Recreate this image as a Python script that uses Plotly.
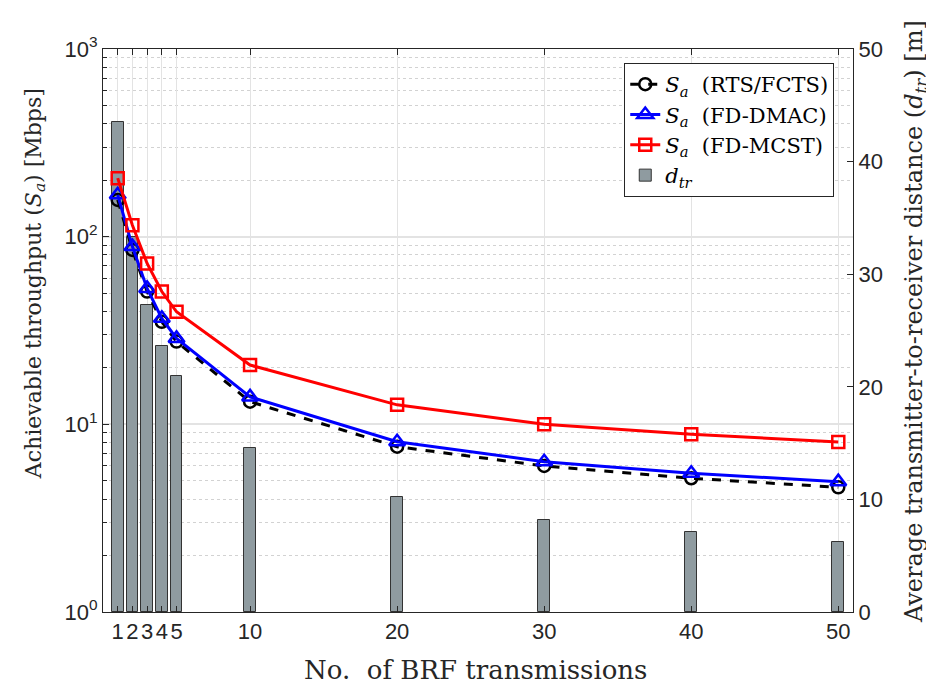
import plotly.graph_objects as go

# ---- data ----
brf = [1, 2, 3, 4, 5, 10, 20, 30, 40, 50]
x_ticklabels = ["1", "2", "3", "4", "5", "10", "20", "30", "40", "50"]
d_tr = [43.5, 33.3, 27.3, 23.6, 21.0, 14.6, 10.2, 8.2, 7.1, 6.2]
s_rts_fcts = [157, 85, 51, 35.2, 27.6, 13.2, 7.6, 6.0, 5.16, 4.62]
s_fd_dmac = [167, 88.5, 53, 36.7, 28.7, 14.0, 8.08, 6.32, 5.48, 4.95]
s_fd_mcst = [205, 115, 72, 51, 39.8, 20.7, 12.7, 10.0, 8.85, 8.05]
y_tickvals = [1, 10, 100, 1000]
y_ticklabels = ["10<sup>0</sup>", "10<sup>1</sup>", "10<sup>2</sup>", "10<sup>3</sup>"]
y_minor_tickvals = [m * d for d in (1, 10, 100) for m in range(2, 10)]
y2_tickvals = [0, 10, 20, 30, 40, 50]

SERIF = "DejaVu Serif, Liberation Serif, serif"
SANS = "Liberation Sans, Arial, sans-serif"
AX = "#262626"

fig = go.Figure()

# bars on the primary (linear, right-side) axis so lines draw above them
fig.add_trace(go.Bar(
    x=brf, y=d_tr, width=0.8,
    marker=dict(color="#8f9ba0", line=dict(color="#333333", width=1)),
    name="<i>d</i><sub><i>tr</i></sub>", legendrank=4,
    xaxis="x", yaxis="y",
))

common = dict(xaxis="x", yaxis="y2", mode="lines+markers")
fig.add_trace(go.Scatter(
    x=brf, y=s_rts_fcts, name="<i>S</i><sub><i>a</i></sub>  (RTS/FCTS)", legendrank=1,
    line=dict(color="black", width=3, dash="dash"),
    marker=dict(symbol="circle-open", size=12, line=dict(width=2.5, color="black")),
    **common))
fig.add_trace(go.Scatter(
    x=brf, y=s_fd_dmac, name="<i>S</i><sub><i>a</i></sub>  (FD-DMAC)", legendrank=2,
    line=dict(color="#0000ff", width=3),
    marker=dict(symbol="triangle-up-open", size=14, line=dict(width=2.5, color="#0000ff")),
    **common))
fig.add_trace(go.Scatter(
    x=brf, y=s_fd_mcst, name="<i>S</i><sub><i>a</i></sub>  (FD-MCST)", legendrank=3,
    line=dict(color="#ff0000", width=3),
    marker=dict(symbol="square-open", size=12, line=dict(width=2.5, color="#ff0000")),
    **common))

title_font = dict(family=SERIF, color=AX)

fig.update_layout(
    width=926, height=682,
    margin=dict(l=95, r=81, t=41, b=78, autoexpand=False),
    paper_bgcolor="white", plot_bgcolor="white",
    showlegend=True,
    bargap=0,
    legend=dict(
        x=0.975, y=0.975, xanchor="right", yanchor="top",
        bgcolor="white", bordercolor="#262626", borderwidth=1,
        font=dict(family=SERIF, size=21, color="black"),
        traceorder="normal",
        tracegroupgap=0,
    ),
    xaxis=dict(
        range=[0, 51], tickmode="array", tickvals=brf, ticktext=x_ticklabels,
        ticks="inside", ticklen=6, tickcolor=AX, mirror="ticks",
        showline=True, linecolor=AX, linewidth=1,
        showgrid=True, gridcolor="#e3e3e3", gridwidth=1,
        zeroline=False, automargin=False,
        tickfont=dict(family=SANS, size=22, color=AX),
    ),
    yaxis=dict(
        side="right", range=[0, 50], tickmode="array", tickvals=y2_tickvals,
        ticks="inside", ticklen=6, tickcolor=AX,
        showline=True, linecolor=AX, linewidth=1,
        showgrid=False, zeroline=False, automargin=False,
        tickfont=dict(family=SANS, size=22, color=AX),
    ),
    yaxis2=dict(
        type="log", overlaying="y", side="left", range=[0, 3],
        tickmode="array", tickvals=y_tickvals, ticktext=y_ticklabels,
        ticks="inside", ticklen=6, tickcolor=AX,
        showline=True, linecolor=AX, linewidth=1,
        showgrid=True, gridcolor="#e3e3e3", gridwidth=1.5,
        zeroline=False, automargin=False,
        minor=dict(tickmode="array", tickvals=y_minor_tickvals,
                   ticks="inside", ticklen=4, tickcolor=AX, showgrid=True,
                   gridcolor="#d2d2d2", griddash="dot", gridwidth=1),
        tickfont=dict(family=SANS, size=22, color=AX),
    ),
    annotations=[
        dict(text="Achievable throughput (<i>S</i><sub><i>a</i></sub>) [Mbps]",
             xref="paper", yref="paper", x=-0.0907, y=0.584,
             xanchor="center", yanchor="middle", textangle=-90, showarrow=False,
             font=dict(size=22, **title_font)),
        dict(text="Average transmitter-to-receiver distance (<i>d</i><sub><i>tr</i></sub>) [m]",
             xref="paper", yref="paper", x=1.0827, y=0.515,
             xanchor="center", yanchor="middle", textangle=-90, showarrow=False,
             font=dict(size=24, **title_font)),
        dict(text="No.  of BRF transmissions",
             xref="paper", yref="paper", x=0.497, y=-0.103,
             xanchor="center", yanchor="middle", showarrow=False,
             font=dict(size=26, **title_font)),
    ],
)

fig.write_html("out.html")
